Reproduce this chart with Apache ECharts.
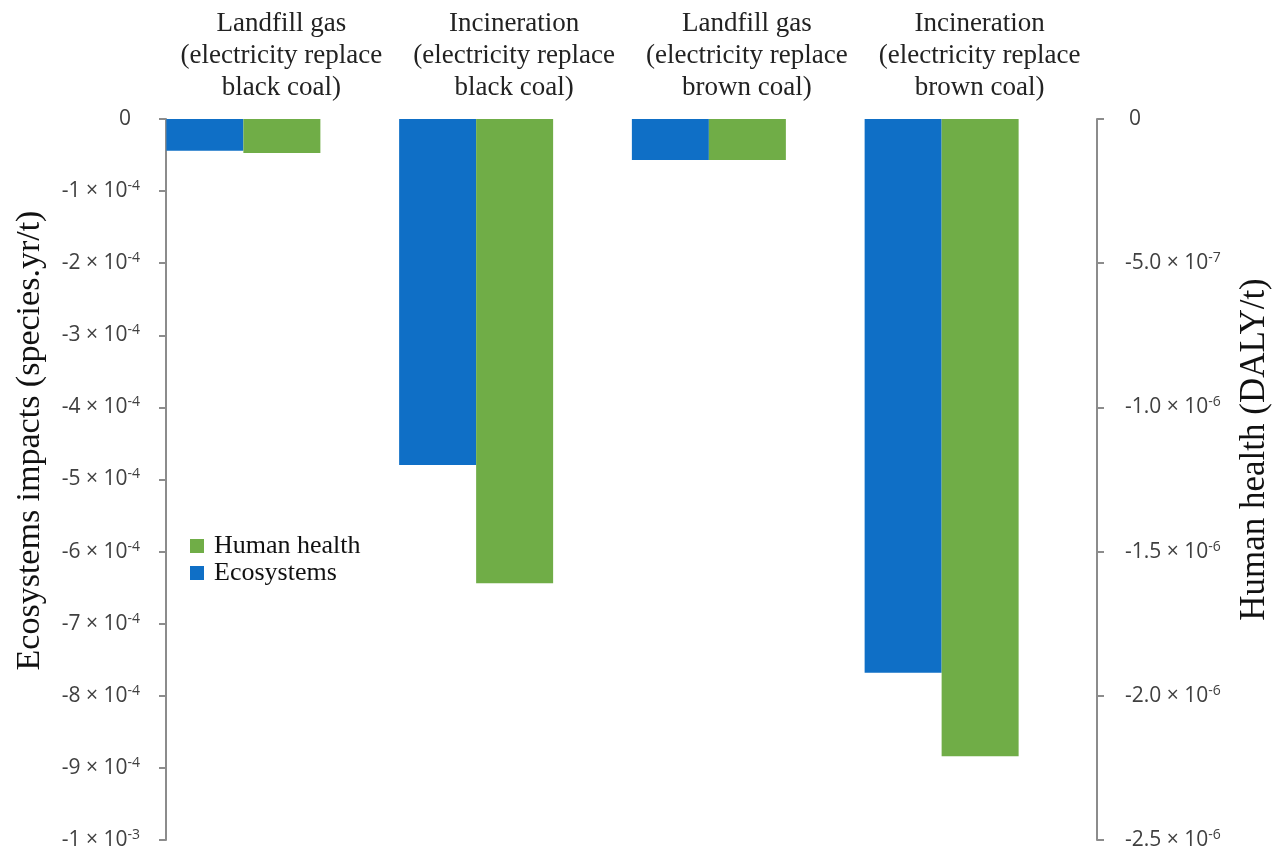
<!DOCTYPE html>
<html>
<head>
<meta charset="utf-8">
<script src="https://cdn.jsdelivr.net/npm/echarts@6/dist/echarts.min.js"></script>
<style>
html,body{margin:0;padding:0;background:#fff;overflow:hidden;}
#chart{width:1272px;height:851px;}
</style>
</head>
<body>
<div id="chart"></div>
<script>
var categories = [
  'Landfill gas\n(electricity replace\nblack coal)',
  'Incineration\n(electricity replace\nblack coal)',
  'Landfill gas\n(electricity replace\nbrown coal)',
  'Incineration\n(electricity replace\nbrown coal)'
];
var ecosystems = [-4.4e-5, -4.8e-4, -5.7e-5, -7.68e-4];
var humanHealth = [-1.18e-7, -1.61e-6, -1.42e-7, -2.21e-6];
var leftTicks = {min: -1e-3, max: 0, interval: 1e-4};
var rightTicks = {min: -2.5e-6, max: 0, interval: 5e-7};

function sci(v, dec) {
  if (Math.abs(v) < 1e-15) return '{z|0}';
  var e = Math.floor(Math.log10(Math.abs(v)) + 1e-9);
  var m = v / Math.pow(10, e);
  return '{b|' + m.toFixed(dec) + ' \u00d7 10}{s|' + e + '}';
}
function richFor(zeroPad) {
  return {
    b: {fontSize: 21, color: '#404040', fontFamily: 'Open Sans'},
    s: {fontSize: 14, color: '#404040', fontFamily: 'Open Sans', padding: [0, 0, 10, 0]},
    z: {fontSize: 21, color: '#404040', fontFamily: 'Open Sans', padding: zeroPad}
  };
}

var chart = echarts.init(document.getElementById('chart'));
chart.setOption({
  animation: false,
  backgroundColor: '#fff',
  grid: {left: 127, width: 931, top: 119, height: 721, containLabel: false, outerBoundsMode: 'none'},
  legend: {
    data: ['Human health', 'Ecosystems'],
    orient: 'vertical',
    left: 185, top: 528,
    itemWidth: 14, itemHeight: 14, itemGap: 1,
    icon: 'rect',
    textStyle: {fontFamily: 'Liberation Serif', fontSize: 26, color: '#111', padding: [0, 0, 0, 5]}
  },
  xAxis: {
    type: 'category',
    position: 'top',
    data: categories,
    axisLine: {show: false},
    axisTick: {show: false},
    axisLabel: {
      interval: 0, margin: 15,
      padding: [0, 0, 0, 76],
      fontFamily: 'Liberation Serif', fontSize: 27, lineHeight: 32, color: '#222'
    }
  },
  yAxis: [
    {
      type: 'value', position: 'left', offset: -39,
      min: leftTicks.min, max: leftTicks.max, interval: leftTicks.interval,
      name: 'Ecosystems impacts (species.yr/t)',
      nameLocation: 'middle', nameGap: 119, nameRotate: 90,
      nameTextStyle: {fontFamily: 'Liberation Serif', fontSize: 34, color: '#111', padding: [0, 0, 0, 78]},
      axisLine: {show: true, lineStyle: {color: '#8c8c8c', width: 2}},
      axisTick: {show: true, length: 7, lineStyle: {color: '#8c8c8c', width: 2}},
      splitLine: {show: false},
      axisLabel: {margin: 26, formatter: function (v) { return sci(v, 0); }, rich: richFor([0, 9, 0, 0])}
    },
    {
      type: 'value', position: 'right', offset: 39,
      min: rightTicks.min, max: rightTicks.max, interval: rightTicks.interval,
      name: 'Human health (DALY/t)',
      nameLocation: 'middle', nameGap: 140, nameRotate: 90,
      nameTextStyle: {fontFamily: 'Liberation Serif', fontSize: 35, color: '#111', padding: [0, 0, 0, 60]},
      axisLine: {show: true, lineStyle: {color: '#8c8c8c', width: 2}},
      axisTick: {show: true, length: 7, lineStyle: {color: '#8c8c8c', width: 2}},
      splitLine: {show: false},
      axisLabel: {margin: 28, formatter: function (v) { return sci(v, 1); }, rich: richFor([0, 0, 0, 4])}
    }
  ],
  series: [
    {
      name: 'Ecosystems', type: 'bar', yAxisIndex: 0, data: ecosystems,
      barWidth: 77, barGap: '0%', itemStyle: {color: '#0F6FC6'}
    },
    {
      name: 'Human health', type: 'bar', yAxisIndex: 1, data: humanHealth,
      barWidth: 77, barGap: '0%', itemStyle: {color: '#70AD47'}
    }
  ]
});
</script>
</body>
</html>
